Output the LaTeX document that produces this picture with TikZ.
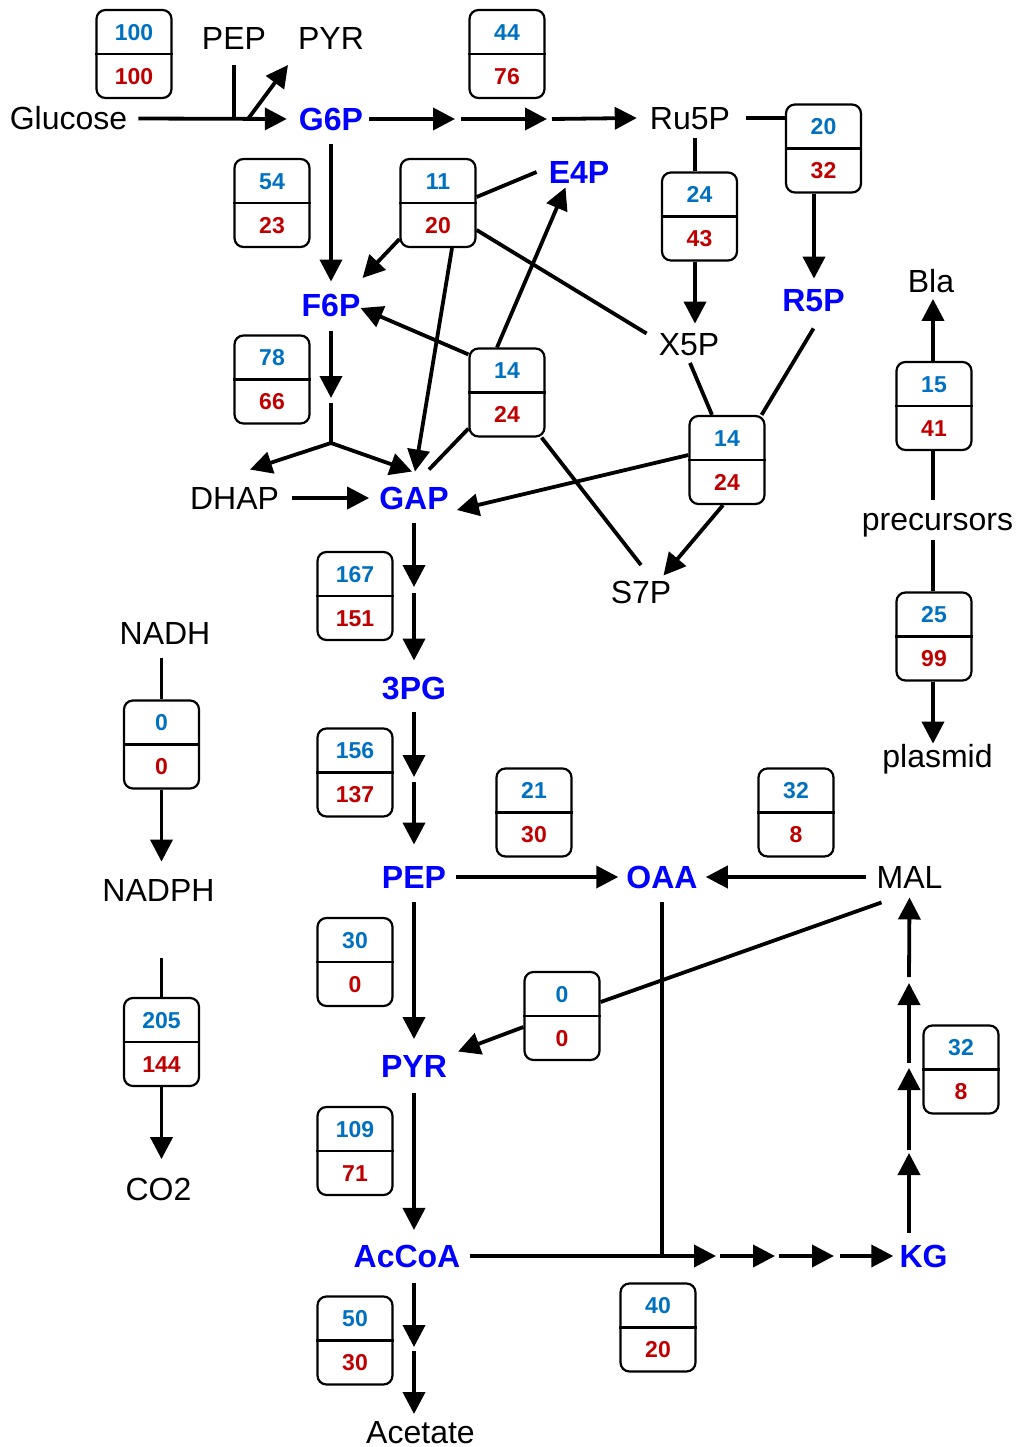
\documentclass[tikz,border=0pt]{standalone}
\usepackage{fontspec}
\setmainfont{Liberation Sans}
\usetikzlibrary{arrows.meta,calc}
\definecolor{metblue}{RGB}{0,0,255}
\definecolor{numblue}{RGB}{0,112,192}
\definecolor{numred}{RGB}{192,0,0}
\tikzset{
  lab/.style={inner sep=0pt, font=\fontsize{32}{32}\selectfont, text height=22.5pt, text depth=0pt},
  met/.style={inner sep=0pt, font=\fontsize{32}{32}\selectfont\bfseries, text=metblue, text height=22.5pt, text depth=0pt},
  fbox/.style={draw, line width=2.2pt, rounded corners=9pt, minimum width=75pt, minimum height=88pt, inner sep=0pt},
  numt/.style={inner sep=0pt, font=\fontsize{23}{23}\selectfont\bfseries, text=numblue, text height=16.5pt, text depth=0pt},
  numb/.style={inner sep=0pt, font=\fontsize{23}{23}\selectfont\bfseries, text=numred, text height=16.5pt, text depth=0pt},
  ln/.style={line width=3.8pt},
  arr/.style={line width=3.8pt, -{Triangle[length=22pt,width=22pt]}},
}
\newcommand\fluxbx[5]{%
  \node[fbox] (#1) at (#2,#3) {};
  \draw[line width=2.4pt] (#1.west) -- (#1.east);
  \node[numt] (#1t) at ($(#1.center)+(0,-22)$) {#4};
  \node[numb] (#1b) at ($(#1.center)+(0,22)$) {#5};
}
\begin{document}
\begin{tikzpicture}[x=1pt,y=-1pt]
\useasboundingbox (0,0) rectangle (1016,1447);
% ---------- metabolite labels
\node[lab] (Glucose) at (68.5,118.5) {Glucose};
\node[lab] (PEPt) at (234,38) {PEP};
\node[lab] (PYRt) at (331,38) {PYR};
\node[met] (G6P) at (331,119) {G6P};
\node[lab] (Ru5P) at (690,118) {Ru5P};
\node[met] (E4P) at (579,172) {E4P};
\node[met] (F6P) at (331,305) {F6P};
\node[met] (R5P) at (813.5,300) {R5P};
\node[lab] (X5P) at (689,344.5) {X5P};
\node[lab] (Bla) at (931,281.5) {Bla};
\node[lab] (DHAP) at (234.5,498) {DHAP};
\node[met] (GAP) at (414,498) {GAP};
\node[lab] (prec) at (937.5,519) {precursors};
\node[lab] (S7P) at (641,592.5) {S7P};
\node[lab] (NADH) at (165,633.5) {NADH};
\node[met] (PG3) at (414,688) {3PG};
\node[lab] (plasmid) at (937.5,756) {plasmid};
\node[met] (PEP) at (414,877) {PEP};
\node[met] (OAA) at (662,877) {OAA};
\node[lab] (MAL) at (909.5,877) {MAL};
\node[lab] (NADPH) at (158.5,890.5) {NADPH};
\node[met] (PYR) at (414,1066.5) {PYR};
\node[lab] (CO2) at (158.5,1189) {CO2};
\node[met] (AcCoA) at (407,1256) {AcCoA};
\node[met] (KG) at (923.5,1256) {KG};
\node[lab] (Acetate) at (420.5,1432) {Acetate};
% ---------- flux boxes
\fluxbx{b1}{134}{54}{100}{100}
\fluxbx{b2}{507}{54}{44}{76}
\fluxbx{b3}{272}{203}{54}{23}
\fluxbx{b4}{438}{203}{11}{20}
\fluxbx{b5}{823.5}{148.5}{20}{32}
\fluxbx{b6}{699.5}{216.5}{24}{43}
\fluxbx{b7}{272}{379.5}{78}{66}
\fluxbx{b8}{507}{392.5}{14}{24}
\fluxbx{b9}{727}{460}{14}{24}
\fluxbx{b10}{934}{406}{15}{41}
\fluxbx{b11}{355}{596}{167}{151}
\fluxbx{b12}{934}{636.5}{25}{99}
\fluxbx{b13}{161.5}{744.5}{0}{0}
\fluxbx{b14}{355}{772.5}{156}{137}
\fluxbx{b15}{534}{812.5}{21}{30}
\fluxbx{b16}{796}{812.5}{32}{8}
\fluxbx{b17}{355}{962}{30}{0}
\fluxbx{b18}{562}{1016}{0}{0}
\fluxbx{b19}{161.5}{1042}{205}{144}
\fluxbx{b20}{961}{1069.5}{32}{8}
\fluxbx{b21}{355}{1151}{109}{71}
\fluxbx{b22}{658}{1327.5}{40}{20}
\fluxbx{b23}{355}{1340.5}{50}{30}
% ---------- helper coordinates
\coordinate (jPEP) at (234,119);
\coordinate (jPYR) at (248,119);
\coordinate (pyrIn) at (288,65);
\coordinate (m1a) at (455,119);
\coordinate (m1b) at (461,119);
\coordinate (m2a) at (547,119);
\coordinate (m2b) at (552,119);
\coordinate (f6a) at (331,398);
\coordinate (f6b) at (331,403);
\coordinate (jF6) at (331,443);
\coordinate (g1) at (414,587);
\coordinate (g2) at (414,593);
\coordinate (p1) at (414,777);
\coordinate (p2) at (414,782);
\coordinate (jOAA) at (662,1256);
\coordinate (t1) at (716,1256);
\coordinate (t2) at (720,1256);
\coordinate (t3) at (775,1256);
\coordinate (t4) at (779,1256);
\coordinate (t5) at (834,1256);
\coordinate (t6) at (840,1256);
\coordinate (k1) at (909,1153);
\coordinate (k2) at (909,1150);
\coordinate (k3) at (909,1068);
\coordinate (k4) at (909,1063);
\coordinate (k5) at (909,983);
\coordinate (k6) at (909,977);
\coordinate (a1) at (414,1347);
\coordinate (a2) at (414,1351);
\coordinate (a3) at (414,1414);
% ---------- upper glycolysis / PPP
\draw[arr] ([xshift=11pt]Glucose.east) -- ([xshift=-12pt]G6P.west);
\draw[ln] ([yshift=-16pt]PEPt.south) -- (jPEP);
\draw[arr] (jPYR) -- (pyrIn);
\draw[arr] ([xshift=6pt]G6P.east) -- (m1a);
\draw[arr] (m1b) -- (m2a);
\draw[arr] (m2b) -- ([xshift=-13pt]Ru5P.west);
\draw[ln] ([xshift=16pt]Ru5P.east) -- (b5.west |- Ru5P);
\draw[arr] ([xshift=-9.5pt]b5.south) -- ++(0,85);
\draw[ln] ([xshift=-4.5pt]b6.north) -- ++(0,-33);
\draw[arr] ([xshift=-4.5pt]b6.south) -- ++(0,62);
\draw[arr] ([yshift=-14pt]G6P.south) -- ([yshift=12pt]F6P.north);
% b4 (11/20)
\draw[ln] ($(b4.east)+(0,-6)$) -- ($(E4P.west)+(-12,0)$);
\draw[ln] ($(b4.east)+(0,27)$) -- ($(X5P.west)+(-12,-11)$);
\draw[arr] ($(b4.south west)+(0,-9)$) -- ($(F6P.east)+(2,-27)$);
\draw[arr] ($(b4.south)+(14,0)$) -- ($(GAP.north)+(1,-15)$);
% b8 (14/24)
\draw[arr] ($(b8.north)+(-10,0)$) -- ($(E4P.south)+(-13.5,4)$);
\draw[arr] ($(b8.north west)+(0,7)$) -- ($(F6P.east)+(0,3)$);
\draw[ln] ($(b8.south west)+(0,-9)$) -- ($(GAP.north)+(15,-17)$);
\draw[ln] ($(b8.south east)+(-4,0)$) -- ($(S7P.north)+(0,-16)$);
% F6P -> DHAP / GAP
\draw[arr] ([yshift=-15pt]F6P.south) -- (f6a);
\draw[arr] (f6b) -- (jF6) -- ($(DHAP.north)+(15.5,-17)$);
\draw[arr] (jF6) -- ($(GAP.north)+(-2,-15)$);
% b9 (14/24)
\draw[ln] ($(X5P.south)+(1,7)$) -- ($(b9.north)+(-15,0)$);
\draw[ln] ($(R5P.south)+(0,17)$) -- ($(b9.north east)+(-4,0)$);
\draw[arr] ($(b9.west)+(0,-5)$) -- ($(GAP.east)+(8,12)$);
\draw[arr] ($(b9.south)+(-4,0)$) -- ($(S7P.north east)+(-8,-5.5)$);
\draw[arr] ([xshift=13pt]DHAP.east) -- ([xshift=-10pt]GAP.west);
% lower glycolysis
\draw[arr] ([yshift=-14pt]GAP.south) -- (g1);
\draw[arr] (g2) -- ([yshift=16pt]PG3.north);
\draw[arr] ([yshift=-13pt]PG3.south) -- (p1);
\draw[arr] (p2) -- ([yshift=21pt]PEP.north);
\draw[arr] ([xshift=10pt]PEP.east) -- ([xshift=-8pt]OAA.west);
\draw[arr] ([xshift=-10pt]MAL.west) -- ([xshift=8pt]OAA.east);
\draw[arr] ([yshift=-14pt]PEP.south) -- ([yshift=16pt]PYR.north);
\draw[ln] ([yshift=-14pt]OAA.south) -- (jOAA);
\draw[ln] ($(MAL.south)+(-28,14)$) -- ($(b18.east)+(0,-14)$);
\draw[arr] ($(b18.west)+(0,11)$) -- ($(PYR.east)+(11,-15)$);
\draw[arr] ([yshift=-15pt]PYR.south) -- ++(0,137);
% TCA
\draw[arr] ([xshift=9pt]AcCoA.east) -- (t1);
\draw[arr] (t2) -- (t3);
\draw[arr] (t4) -- (t5);
\draw[arr] (t6) -- ([xshift=-6pt]KG.west);
\draw[arr] ($(KG.north)+(-14.5,-12)$) -- (k1);
\draw[arr] (k2) -- (k3);
\draw[arr] (k4) -- (k5);
\draw[arr] (k6) -- ([yshift=-9pt]MAL.south);
% acetate
\draw[arr] ($(AcCoA.south)+(7,16)$) -- (a1);
\draw[arr] (a2) -- (a3);
% cofactors
\draw[ln] (b13.north) -- ++(0,-41);
\draw[arr] (b13.south) -- ++(0,72);
\draw[ln] (b19.north) -- ++(0,-39);
\draw[arr] (b19.south) -- ++(0,72);
% precursors
\draw[arr] ([xshift=-1pt]b10.north) -- ++(0,-62);
\draw[ln] ([xshift=-1pt]b10.south) -- ++(0,49);
\draw[ln] ([xshift=-1pt]b12.north) -- ++(0,-51.5);
\draw[arr] ([xshift=-1pt]b12.south) -- ++(0,62);
\end{tikzpicture}
\end{document}
